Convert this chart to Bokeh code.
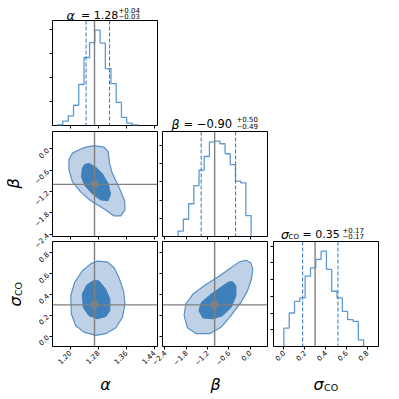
import math
from bokeh.plotting import figure
from bokeh.models import Range1d, FixedTicker, CustomJSTickFormatter, Label, Span
from bokeh.layouts import column
from bokeh.embed import file_html
from bokeh.resources import INLINE

# ---------------- data ----------------
alpha_range = [1.15, 1.45]
beta_range = [-2.47, 0.49]
sigma_range = [-0.10, 0.91]

alpha_ticks = [1.20, 1.28, 1.36, 1.44]
beta_ticks = [-2.4, -1.8, -1.2, -0.6, 0.0]
sigma_ticks = [0.0, 0.2, 0.4, 0.6, 0.8]

truth_alpha = 1.27
truth_beta = -1.0
truth_sigma = 0.30

alpha_q = [1.246, 1.313]
beta_q = [-1.38, -0.41]
sigma_q = [0.18, 0.52]

alpha_edges = [1.164, 1.179, 1.195, 1.210, 1.225, 1.240, 1.256, 1.271, 1.286,
               1.301, 1.317, 1.332, 1.347, 1.362, 1.378, 1.393]
alpha_counts = [1, 9, 20, 42, 85, 141, 172, 198, 171, 118, 87, 48, 17, 5, 1]
alpha_hist_ticks = [50, 100, 150, 200]

beta_edges = [-2.028, -1.881, -1.734, -1.587, -1.440, -1.294, -1.147, -1.000,
              -0.853, -0.706, -0.559, -0.413, -0.266, -0.119, 0.028]
beta_counts = [6, 19, 36, 56, 73, 88, 104, 105, 102, 91, 79, 61, 59, 23]
beta_hist_ticks = [20, 40, 60, 80, 100]

sigma_edges = [0.000, 0.051, 0.102, 0.153, 0.204, 0.256, 0.307, 0.358, 0.409,
               0.460, 0.511, 0.562, 0.613, 0.665, 0.716, 0.767]
sigma_counts = [11, 20, 27, 29, 42, 47, 52, 57, 46, 33, 29, 21, 16, 15, 4]
sigma_hist_ticks = [10, 20, 30, 40, 50, 60]

# 2-D credible-region outlines (outer = light, inner = dark)
ab_outer_alpha = [1.273, 1.297, 1.309, 1.313, 1.321, 1.340, 1.356, 1.357, 1.345, 1.326,
                  1.297, 1.259, 1.231, 1.207, 1.197, 1.197, 1.207, 1.235, 1.259]
ab_outer_beta = [0.086, 0.048, -0.077, -0.41, -0.69, -1.08, -1.46, -1.72, -1.89, -1.89,
                 -1.69, -1.46, -1.22, -0.93, -0.60, -0.31, -0.12, 0.02, 0.077]
ab_inner_alpha = [1.254, 1.273, 1.293, 1.309, 1.316, 1.309, 1.288, 1.264, 1.242, 1.233, 1.235, 1.242]
ab_inner_beta = [-0.41, -0.51, -0.71, -0.98, -1.27, -1.46, -1.44, -1.27, -1.03, -0.79, -0.55, -0.44]

as_outer_alpha = [1.278, 1.307, 1.326, 1.340, 1.353, 1.357, 1.350, 1.331, 1.302, 1.273,
                  1.240, 1.216, 1.204, 1.202, 1.213, 1.235, 1.259]
as_outer_sigma = [0.721, 0.714, 0.657, 0.562, 0.435, 0.309, 0.181, 0.080, 0.023, 0.007,
                  0.038, 0.102, 0.213, 0.388, 0.514, 0.626, 0.695]
as_inner_alpha = [1.269, 1.283, 1.302, 1.314, 1.314, 1.302, 1.278, 1.254, 1.238, 1.235, 1.248]
as_inner_sigma = [0.537, 0.530, 0.451, 0.356, 0.245, 0.188, 0.166, 0.197, 0.276, 0.404, 0.492]

bs_outer_beta = [-0.120, 0.020, 0.076, 0.037, -0.075, -0.259, -0.538, -0.818, -1.144,
                 -1.515, -1.767, -1.861, -1.814, -1.610, -1.236, -0.865, -0.538, -0.307]
bs_outer_sigma = [0.730, 0.705, 0.642, 0.547, 0.435, 0.324, 0.197, 0.086, 0.023,
                  0.023, 0.080, 0.197, 0.309, 0.404, 0.499, 0.578, 0.657, 0.714]
bs_inner_beta = [-0.494, -0.399, -0.399, -0.538, -0.773, -1.052, -1.331, -1.443, -1.376,
                 -1.097, -0.773, -0.606]
bs_inner_sigma = [0.524, 0.483, 0.388, 0.276, 0.197, 0.166, 0.175, 0.245, 0.324, 0.404,
                  0.483, 0.521]

title_alpha = ["1.28", "+0.04", "\u22120.03"]
title_beta = ["\u22120.90", "+0.50", "\u22120.49"]
title_sigma = ["0.35", "+0.17", "\u22120.17"]

# ---------------- styling / layout ----------------
W = H = 395          # every canvas is full-size; panels are stacked on top of each other
FW = FH = 105
COL_X = [52, 162, 273]
ROW_Y = [20, 131, 241]

HIST_C = "#5f9ad2"
QUANT_C = "#3f7fc0"
TRUTH_C = "#808080"
OUTER_FILL = "#bfd1e6"
INNER_FILL = "#3f7fba"
EDGE_C = "#5590c8"
FONT = "DejaVu Sans"

fmt2 = CustomJSTickFormatter(code="return tick.toFixed(2).replace('-', '\u2212');")
fmt1 = CustomJSTickFormatter(code="return tick.toFixed(1).replace('-', '\u2212');")


def mk(xr, yr, r, c):
    x0, y0 = COL_X[c], ROW_Y[r]
    p = figure(frame_width=FW, frame_height=FH,
               x_range=Range1d(*xr), y_range=Range1d(*yr),
               min_border_left=x0, min_border_right=W - x0 - FW,
               min_border_top=y0, min_border_bottom=H - y0 - FH,
               toolbar_location=None, output_backend="svg",
               background_fill_color=None, border_fill_color=None)
    p.grid.visible = False
    p.outline_line_color = "black"
    p.outline_line_width = 1
    for ax in (p.xaxis[0], p.yaxis[0]):
        ax.axis_line_color = None
        ax.major_tick_out = 3
        ax.major_tick_in = 0
        ax.major_tick_line_color = "black"
        ax.minor_tick_line_color = None
        ax.major_label_text_font = FONT
        ax.major_label_text_font_size = "7px"
        ax.major_label_text_color = "black"
        ax.major_label_orientation = math.pi / 4
        ax.major_label_standoff = 2
    return p


def hide_labels(ax):
    ax.major_label_text_color = None


def set_ticks(ax, ticks, fmt=None):
    ax.ticker = FixedTicker(ticks=ticks)
    if fmt is not None:
        ax.formatter = fmt


def hist(p, edges, counts, q, truth):
    xs = [edges[0]]
    ys = [0]
    for i, cnt in enumerate(counts):
        xs += [edges[i], edges[i + 1]]
        ys += [cnt, cnt]
    xs.append(edges[-1])
    ys.append(0)
    p.line(xs, ys, line_color=HIST_C, line_width=1.3)
    for v in q:
        p.add_layout(Span(location=v, dimension="height", line_color=QUANT_C,
                          line_width=1.1, line_dash="4 2"))
    p.add_layout(Span(location=truth, dimension="height", line_color=TRUTH_C, line_width=1.4))


def contour(p, ox, oy, ix, iy, tx, ty):
    p.patch(ox, oy, fill_color=OUTER_FILL, line_color=EDGE_C, line_width=1.2)
    p.patch(ix, iy, fill_color=INNER_FILL, line_color=INNER_FILL, line_width=1.0)
    p.add_layout(Span(location=tx, dimension="height", line_color=TRUTH_C, line_width=1.4))
    p.add_layout(Span(location=ty, dimension="width", line_color=TRUTH_C, line_width=1.4))
    p.scatter([tx], [ty], marker="square", size=6, fill_color=TRUTH_C, line_color=TRUTH_C)


a_max = max(alpha_counts) * 1.1
b_max = max(beta_counts) * 1.1
s_max = max(sigma_counts) * 1.1

# row 0
f00 = mk(alpha_range, [0, a_max], 0, 0)
hist(f00, alpha_edges, alpha_counts, alpha_q, truth_alpha)
set_ticks(f00.xaxis[0], alpha_ticks)
set_ticks(f00.yaxis[0], alpha_hist_ticks)
hide_labels(f00.xaxis[0])
hide_labels(f00.yaxis[0])

# row 1
f10 = mk(alpha_range, beta_range, 1, 0)
contour(f10, ab_outer_alpha, ab_outer_beta, ab_inner_alpha, ab_inner_beta, truth_alpha, truth_beta)
set_ticks(f10.xaxis[0], alpha_ticks)
set_ticks(f10.yaxis[0], beta_ticks, fmt1)
hide_labels(f10.xaxis[0])

f11 = mk(beta_range, [0, b_max], 1, 1)
hist(f11, beta_edges, beta_counts, beta_q, truth_beta)
set_ticks(f11.xaxis[0], beta_ticks)
set_ticks(f11.yaxis[0], beta_hist_ticks)
hide_labels(f11.xaxis[0])
hide_labels(f11.yaxis[0])

# row 2
f20 = mk(alpha_range, sigma_range, 2, 0)
contour(f20, as_outer_alpha, as_outer_sigma, as_inner_alpha, as_inner_sigma, truth_alpha, truth_sigma)
set_ticks(f20.xaxis[0], alpha_ticks, fmt2)
set_ticks(f20.yaxis[0], sigma_ticks, fmt1)

f21 = mk(beta_range, sigma_range, 2, 1)
contour(f21, bs_outer_beta, bs_outer_sigma, bs_inner_beta, bs_inner_sigma, truth_beta, truth_sigma)
set_ticks(f21.xaxis[0], beta_ticks, fmt1)
set_ticks(f21.yaxis[0], sigma_ticks)
hide_labels(f21.yaxis[0])

f22 = mk(sigma_range, [0, s_max], 2, 2)
hist(f22, sigma_edges, sigma_counts, sigma_q, truth_sigma)
set_ticks(f22.xaxis[0], sigma_ticks, fmt1)
set_ticks(f22.yaxis[0], sigma_hist_ticks)
hide_labels(f22.yaxis[0])

# ---------------- text overlay (titles and axis labels, page pixels) ----------------
ov = figure(frame_width=W, frame_height=H, x_range=Range1d(0, W), y_range=Range1d(H, 0),
            min_border=0, toolbar_location=None, output_backend="svg",
            x_axis_type=None, y_axis_type=None,
            background_fill_color=None, border_fill_color=None)
ov.grid.visible = False
ov.outline_line_color = None

DY = -4  # baseline correction for horizontal labels


def txt(x, y, s, size, style="normal", align="left", baseline="alphabetic", angle=0.0):
    if angle == 0.0:
        y = y + DY
    ov.add_layout(Label(x=x, y=y, text=s, text_font=FONT, text_font_size=size,
                        text_font_style=style, text_color="black", text_align=align,
                        text_baseline=baseline, angle=angle))


# titles of the diagonal panels
txt(66, 18.5, "\u03b1", "12.5px", style="italic")
txt(80.5, 18.5, "= " + title_alpha[0], "11px")
txt(118, 13, title_alpha[1], "7px")
txt(118, 19.5, title_alpha[2], "7px")

txt(171, 127.5, "\u03b2", "12.5px", style="italic")
txt(183, 127.5, "= " + title_beta[0], "11.5px")
txt(236, 122.5, title_beta[1], "7px")
txt(236, 129.5, title_beta[2], "7px")

txt(280.5, 237.5, "\u03c3", "12.5px", style="italic")
txt(288, 240, "CO", "7px")
txt(302, 237.5, "= " + title_sigma[0], "11px")
txt(342, 233, title_sigma[1], "7px")
txt(342, 239.5, title_sigma[2], "7px")

# axis labels
txt(105, 388, "\u03b1", "16px", style="italic", align="center")
txt(215, 388, "\u03b2", "16px", style="italic", align="center")
txt(318, 388, "\u03c3", "16px", style="italic", align="center")
txt(323.5, 391, "CO", "9.5px")
txt(12.5, 183, "\u03b2", "16px", style="italic", align="center", baseline="middle", angle=math.pi / 2)
txt(15, 301, "\u03c3", "16px", style="italic", align="center", baseline="middle", angle=math.pi / 2)
txt(18, 288.5, "CO", "9.5px", align="center", baseline="middle", angle=math.pi / 2)

# each panel sits in its own wrapper (so frames are not re-aligned); wrappers overlap
figs = [f00, f10, f11, f20, f21, f22, ov]
wrappers = []
for i, f in enumerate(figs):
    w = column(f, spacing=0)
    if i > 0:
        w.margin = (-H, 0, 0, 0)
    wrappers.append(w)
layout = column(*wrappers, spacing=0)

open("out.html", "w").write(file_html(layout, INLINE, title="corner"))
